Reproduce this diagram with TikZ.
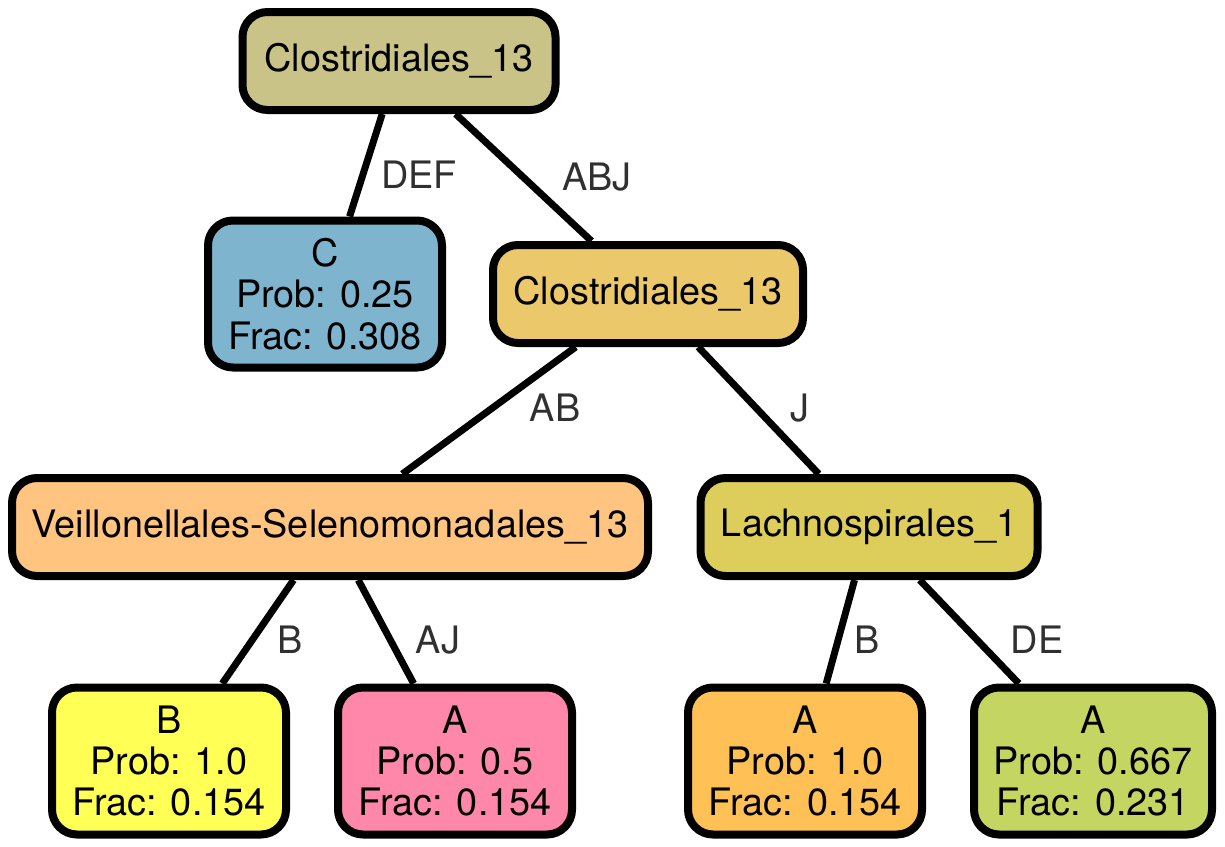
\documentclass[tikz,border=0pt]{standalone}
\usepackage{fontspec}
\setmainfont{TeX Gyre Heros}

\def\nodefont{\fontsize{18.9}{20.7}\selectfont}
\definecolor{rootcol}{HTML}{C9C387}
\definecolor{ccol}{HTML}{7FB4CF}
\definecolor{closcol}{HTML}{EBC96A}
\definecolor{veilcol}{HTML}{FFC47F}
\definecolor{lachcol}{HTML}{DDCD5B}
\definecolor{bcol}{HTML}{FFFF55}
\definecolor{pinkcol}{HTML}{FF88AA}
\definecolor{orangecol}{HTML}{FFC055}
\definecolor{greencol}{HTML}{C5D562}
\definecolor{labelgray}{HTML}{303030}

\tikzset{
 tree/.style={draw=black, line width=4pt, rounded corners=12.5pt,
  align=center, font=\nodefont, text=black, inner sep=0pt},
 split/.style={tree, minimum height=49pt},
 leaf/.style={tree, minimum height=73.5pt, minimum width=117pt},
 cut/.style={font=\nodefont, text=labelgray, inner sep=0pt},
 branch/.style={line width=3.5pt}
}

\begin{document}
\begin{tikzpicture}[x=0.5pt,y=-0.5pt]
 \useasboundingbox (0,0) rectangle (1225,846);
 % Split nodes
 \node[split, fill=rootcol, minimum width=156.5pt] (root) at (399,61) {Clostridiales\_13};
 \node[split, fill=closcol, minimum width=155pt] (clos) at (648,294) {Clostridiales\_13};
 \node[split, fill=veilcol, minimum width=318pt] (veil) at (330,527) {Veillonellales-Selenomonadales\_13};
 \node[split, fill=lachcol, minimum width=168.5pt] (lach) at (869,527) {Lachnospirales\_1};
 % Leaves
 \node[leaf, fill=ccol] (leafC) at (325,294) {C\\Prob: 0.25\\Frac: 0.308};
 \node[leaf, fill=bcol] (leafB) at (169,761) {B\\Prob: 1.0\\Frac: 0.154};
 \node[leaf, fill=pinkcol] (leafA) at (455,761) {A\\Prob: 0.5\\Frac: 0.154};
 \node[leaf, fill=orangecol] (leafAo) at (805,761) {A\\Prob: 1.0\\Frac: 0.154};
 \node[leaf, fill=greencol, minimum width=119pt] (leafAg) at (1093,761) {A\\Prob: 0.667\\Frac: 0.231};
 % Branches
 \foreach \a/\b in {root/leafC, root/clos, clos/veil, clos/lach,
                    veil/leafB, veil/leafA, lach/leafAo, lach/leafAg}
  \draw[branch] (\a) -- (\b);
 % Branch labels
 \node[cut] (cutDEF) at (419,175) {DEF};
 \node[cut] (cutABJ) at (597,177) {ABJ};
 \node[cut] (cutAB) at (555,408) {AB};
 \node[cut] (cutJ) at (800,408) {J};
 \node[cut] (cutB) at (290,640) {B};
 \node[cut] (cutAJ) at (438,640) {AJ};
 \node[cut] (cutBl) at (867,640) {B};
 \node[cut] (cutDE) at (1037,640) {DE};
\end{tikzpicture}
\end{document}
